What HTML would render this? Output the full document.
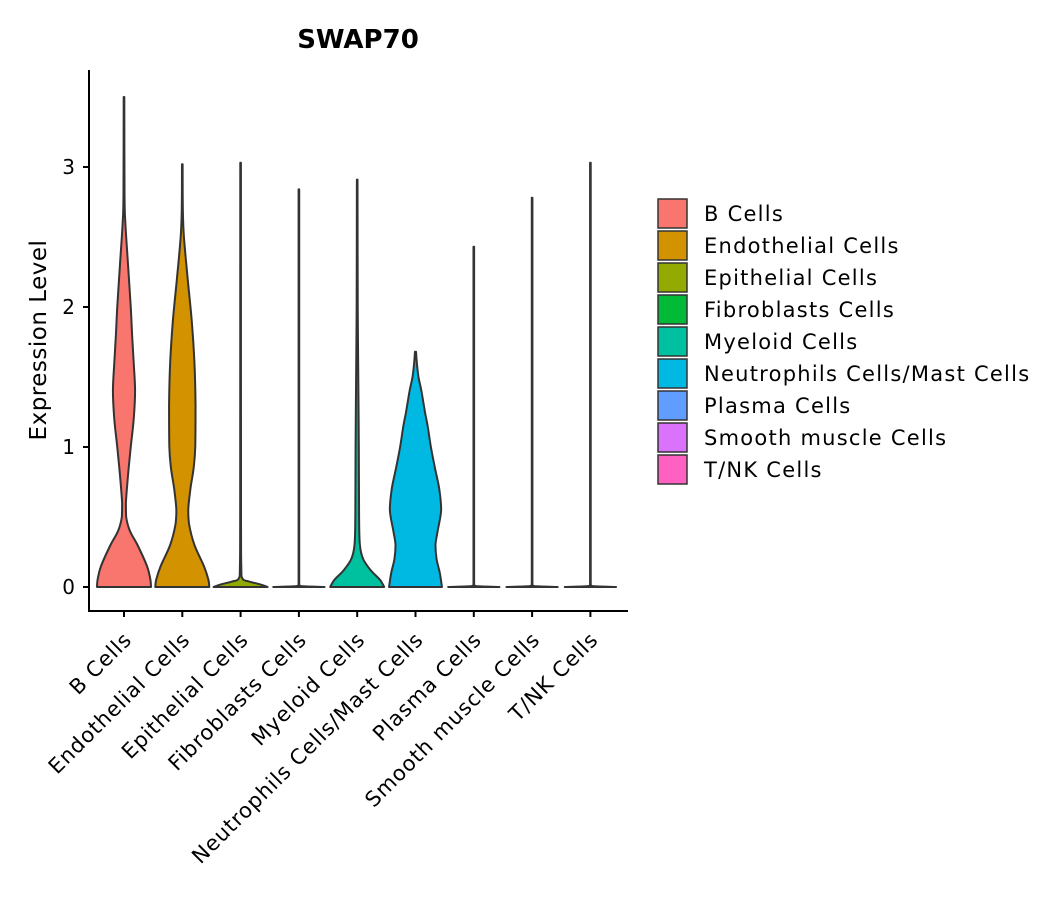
<!DOCTYPE html>
<html><head><meta charset="utf-8"><style>
body{margin:0;background:#fff}
svg text{font-family:"DejaVu Sans","Liberation Sans",sans-serif;fill:#000}
</style></head><body>
<svg id="chart" width="1057" height="900" xmlns="http://www.w3.org/2000/svg">
<text x="358" y="48" text-anchor="middle" font-size="26" font-weight="bold">SWAP70</text>
<text transform="translate(46,340) rotate(-90)" text-anchor="middle" font-size="23" letter-spacing="0.5">Expression Level</text>
<g id="plot"></g>
<g id="legend"></g>
</svg>
<script>
const categories=["B Cells","Endothelial Cells","Epithelial Cells","Fibroblasts Cells","Myeloid Cells","Neutrophils Cells/Mast Cells","Plasma Cells","Smooth muscle Cells","T/NK Cells"];
const colors=["#F8766D","#D39200","#93AA00","#00BA38","#00C19F","#00B9E3","#619CFF","#DB72FB","#FF61C3"];
const yTicks=[0,1,2,3];
const densB=[[0,1],[0.05,0.98],[0.15,0.85],[0.3,0.5],[0.4,0.22],[0.5,0.08],[0.6,0.07],[0.8,0.15],[1.0,0.25],[1.2,0.36],[1.4,0.41],[1.6,0.36],[1.8,0.3],[2.0,0.25],[2.3,0.15],[2.6,0.05],[2.8,0.02],[3.5,0.012]];
const densEndo=[[0,1],[0.05,0.97],[0.15,0.8],[0.3,0.45],[0.45,0.25],[0.55,0.22],[0.7,0.3],[0.85,0.42],[1.0,0.48],[1.3,0.49],[1.6,0.45],[1.9,0.35],[2.2,0.2],[2.5,0.06],[2.7,0.02],[3.02,0.012]];
const densEpi=[[0,1],[0.02,0.7],[0.04,0.3],[0.06,0.07],[0.15,0.025],[0.6,0.015],[3.03,0.012]];
const densFib=[[0,0.95],[0.006,0.1],[0.02,0.012],[2.84,0.012]];
const densMye=[[0,1],[0.05,0.85],[0.12,0.5],[0.2,0.22],[0.3,0.1],[0.5,0.07],[1.0,0.06],[1.5,0.04],[2.0,0.02],[2.91,0.012]];
const densNeu=[[0,0.98],[0.1,0.9],[0.2,0.78],[0.3,0.74],[0.4,0.82],[0.55,0.95],[0.7,0.88],[0.85,0.72],[1.0,0.57],[1.15,0.45],[1.25,0.35],[1.4,0.22],[1.5,0.11],[1.6,0.05],[1.68,0.02]];
const densPla=[[0,0.95],[0.006,0.1],[0.02,0.012],[2.43,0.012]];
const densSmo=[[0,0.95],[0.006,0.1],[0.02,0.012],[2.78,0.012]];
const densTNK=[[0,0.95],[0.006,0.1],[0.02,0.012],[3.03,0.012]];
const densities=[densB,densEndo,densEpi,densFib,densMye,densNeu,densPla,densSmo,densTNK];

const NS="http://www.w3.org/2000/svg";
const plot=document.getElementById('plot'), legend=document.getElementById('legend');
const x0=89,x1=628,yBase=587,pxPerUnit=140;
const step=58.3;
const xScale=i=>124+step*i;
const yScale=v=>yBase-v*pxPerUnit;
const maxHalf=27;
function mk(tag,attrs){const e=document.createElementNS(NS,tag);for(const k in attrs)e.setAttribute(k,attrs[k]);return e;}
function clamp(v,a,b){const lo=Math.min(a,b),hi=Math.max(a,b);return Math.max(lo,Math.min(hi,v));}
function smoothSide(pts){
  let s='';
  for(let i=0;i<pts.length-1;i++){
    const p0=pts[Math.max(0,i-1)],p1=pts[i],p2=pts[i+1],p3=pts[Math.min(pts.length-1,i+2)];
    const c1=[clamp(p1[0]+(p2[0]-p0[0])/6,p1[0],p2[0]),clamp(p1[1]+(p2[1]-p0[1])/6,p1[1],p2[1])];
    const c2=[clamp(p2[0]-(p3[0]-p1[0])/6,p1[0],p2[0]),clamp(p2[1]-(p3[1]-p1[1])/6,p1[1],p2[1])];
    s+=`C${c1[0].toFixed(2)},${c1[1].toFixed(2)} ${c2[0].toFixed(2)},${c2[1].toFixed(2)} ${p2[0].toFixed(2)},${p2[1].toFixed(2)}`;
  }
  return s;
}

densities.forEach((d,i)=>{
  const cx=xScale(i);
  const right=d.map(p=>[cx+p[1]*maxHalf,yScale(p[0])]);
  const left=d.slice().reverse().map(p=>[cx-p[1]*maxHalf,yScale(p[0])]);
  const dstr=`M${right[0][0]},${right[0][1]}`+smoothSide(right)+`L${left[0][0]},${left[0][1]}`+smoothSide(left)+'Z';
  const path=mk('path',{d:dstr,fill:colors[i],stroke:'#333','stroke-width':2,'stroke-linejoin':'round'});
  
  
  plot.appendChild(path);
});

const ax=mk('path',{d:`M${x0},70V611H${x1}`,fill:'none',stroke:'#000','stroke-width':2});


plot.appendChild(ax);

yTicks.forEach(t=>{
  const y=yScale(t);
  const l=mk('line',{x1:x0-6,x2:x0,y1:y,y2:y,stroke:'#000','stroke-width':2});
  
  
  plot.appendChild(l);
  const tx=mk('text',{x:x0-14,y:y+7,'text-anchor':'end','font-size':20});
  tx.textContent=t;
  
  
  plot.appendChild(tx);
});

categories.forEach((c,i)=>{
  const x=xScale(i);
  const l=mk('line',{x1:x,x2:x,y1:611,y2:617,stroke:'#000','stroke-width':2});
  
  
  plot.appendChild(l);
  const tx=mk('text',{transform:`translate(${x+9},641) rotate(-45)`,'text-anchor':'end','font-size':21,'letter-spacing':'0.9'});
  tx.textContent=c;
  
  
  plot.appendChild(tx);

  const ly=199+i*32;
  const r=mk('rect',{x:658,y:ly,width:29,height:29,fill:colors[i],stroke:'#333','stroke-width':1.5});
  
  
  legend.appendChild(r);
  const lt=mk('text',{x:704,y:ly+22,'font-size':21,'letter-spacing':'1.25'});
  lt.textContent=c;
  
  
  legend.appendChild(lt);
});
</script>
</body></html>
